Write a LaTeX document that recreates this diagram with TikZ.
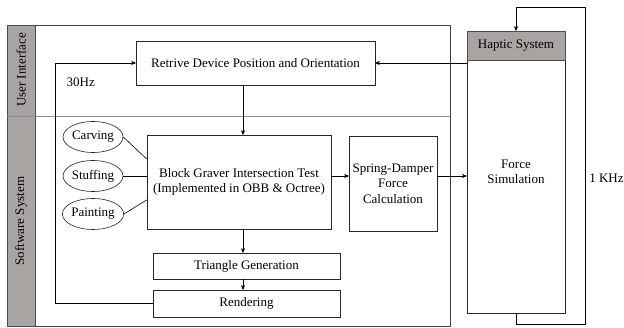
\documentclass[tikz,border=0pt]{standalone}
\usepackage{fontspec}
\setmainfont{Liberation Serif}
\usetikzlibrary{arrows,shapes}
\definecolor{bandgray}{RGB}{168,164,161}

\begin{document}
\begin{tikzpicture}[->,>=stealth',x=1pt,y=-1pt,line width=0.6pt,
                    font=\fontsize{13}{15.5}\selectfont]
  \tikzstyle{block}=[draw=black!85,rectangle,align=center,inner sep=2pt]
  \tikzstyle{tool}=[draw=black!85,ellipse,minimum width=60pt,minimum height=31pt,inner sep=0pt]
  \tikzstyle{band}=[draw=black!70,fill=bandgray]

  \useasboundingbox (0,0) rectangle (624,328);

  % layers
  \draw[-,draw=black!75] (7,25) rectangle (450,326);
  \draw[-,band] (7,25) rectangle (35,326);
  \draw[-,draw=black!45] (7,116) -- (450,116);
  \node[rotate=90] (ui) at (21,70) {User Interface};
  \node[rotate=90] (sw) at (21,221) {Software System};

  % software side
  \node[block,minimum width=239pt,minimum height=44pt] (retrive) at (255.5,63) {Retrive Device Position and Orientation};
  \node[block,minimum width=184pt,minimum height=94pt] (block) at (239,182) {Block Graver Intersection Test\\(Implemented in OBB \& Octree)};
  \node[block,minimum width=88pt,minimum height=95pt] (spring) at (393,183.5) {Spring-Damper\\Force\\Calculation};
  \node[block,minimum width=187pt,minimum height=26pt] (tri) at (246.5,266) {Triangle Generation};
  \node[block,minimum width=187pt,minimum height=27pt] (render) at (246.5,303.5) {Rendering};

  \node[tool] (carving) at (93,137) {Carving};
  \node[tool] (stuffing) at (93,176) {Stuffing};
  \node[tool] (painting) at (93,214) {Painting};

  % haptic side
  \node[block,minimum width=98pt,minimum height=282pt] (haptic) at (516,172) {};
  \node[block,band,minimum width=98pt,minimum height=29pt,anchor=north] (hapticlabel) at (haptic.north) {Haptic System};
  \node[align=center] (force) at (516,172) {Force\\Simulation};

  \node[anchor=west] (rate30) at (63,82) {30Hz};
  \node[anchor=west,inner xsep=0pt] (rate1k) at (589,178) {1 KHz};

  \coordinate (col) at (243,0);
  \coordinate (back) at (55,63);
  \coordinate (loopa) at (585,324);
  \coordinate (loopb) at (585,7);

  \path (retrive.south -| col) edge (block.north -| col)
        (block.south -| col) edge (tri.north -| col)
        (tri.south -| col) edge (render.north -| col)
        (block.east |- stuffing) edge (spring.west |- stuffing)
        (spring.east |- stuffing) edge (haptic.west |- stuffing)
        (retrive.east -| haptic.west) edge (retrive.east);

  \path[-] (carving.east) edge (block.166)
           (stuffing.east) edge (block.west |- stuffing)
           (painting.east) edge (block.191);

  \draw (render.west) -| (back) -- (retrive.west);
  \draw (haptic.south) |- (loopa) -- (loopb) -| (haptic.north);
\end{tikzpicture}
\end{document}
